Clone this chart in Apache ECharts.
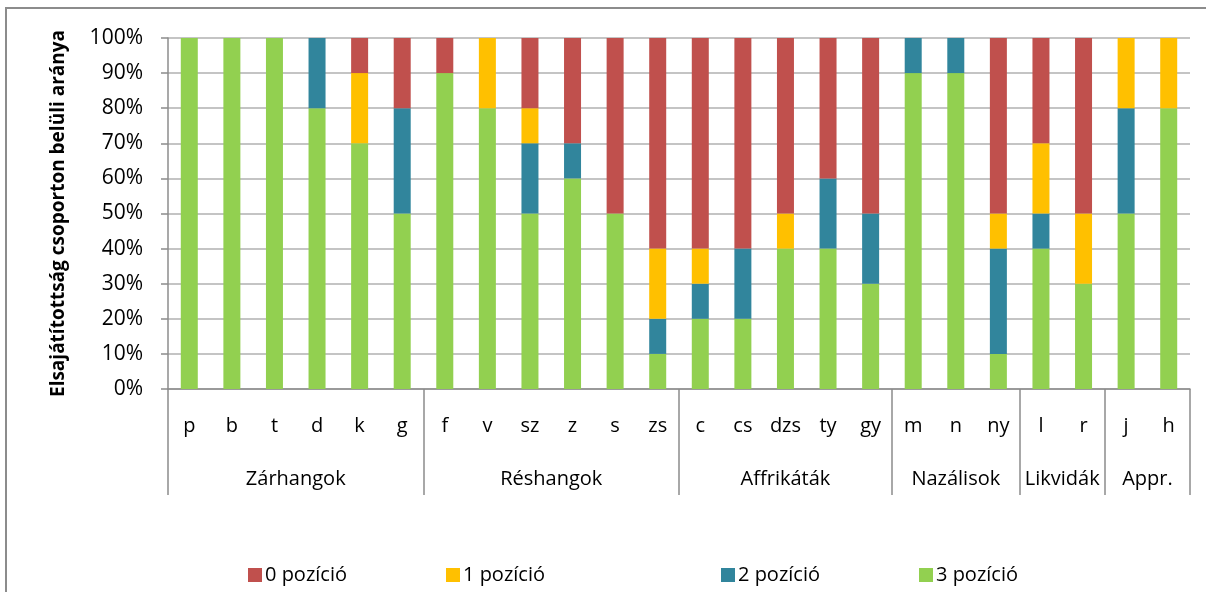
<!DOCTYPE html>
<html style="height: 100%">
<head>
    <meta charset="utf-8">
</head>
<body style="height: 100%; margin: 0; background: #fff">
<div style="position: absolute; left: 5px; top: 7px; width: 1201px; height: 585px; border-left: 2px solid #8c8c8c; border-top: 2px solid #8c8c8c;"></div>
<div id="container" style="position: absolute; left: 0; top: 0; width: 1206px; height: 592px"></div>
<script type="text/javascript" src="https://cdn.jsdelivr.net/npm/echarts@6/dist/echarts.min.js"></script>
<script type="text/javascript">
    // hangok (kategóriák)
    var hangok = ['p', 'b', 't', 'd', 'k', 'g', 'f', 'v', 'sz', 'z', 's', 'zs', 'c', 'cs', 'dzs', 'ty', 'gy', 'm', 'n', 'ny', 'l', 'r', 'j', 'h'];
    // csoportok es hatarok (kategoria-indexben)
    var csoportok = ['Zárhangok', 'Réshangok', 'Affrikáták', 'Nazálisok', 'Likvidák', 'Appr.'];
    var csoportHatarok = [0, 6, 12, 17, 20, 22, 24];

    // arányok %-ban
    var poz0 = [0, 0, 0, 0, 10, 20, 10, 0, 20, 30, 50, 60, 60, 60, 50, 40, 50, 0, 0, 50, 30, 50, 0, 0];
    var poz1 = [0, 0, 0, 0, 20, 0, 0, 20, 10, 0, 0, 20, 10, 0, 10, 0, 0, 0, 0, 10, 20, 20, 20, 20];
    var poz2 = [0, 0, 0, 20, 0, 30, 0, 0, 20, 10, 0, 10, 10, 20, 0, 20, 20, 10, 10, 30, 10, 0, 30, 0];
    var poz3 = [100, 100, 100, 80, 70, 50, 90, 80, 50, 60, 50, 10, 20, 20, 40, 40, 30, 90, 90, 10, 40, 30, 50, 80];

    var yTicks = [0, 10, 20, 30, 40, 50, 60, 70, 80, 90, 100];

    var csoportKozep = [];
    for (var i = 0; i < csoportok.length; i++) {
        csoportKozep.push((csoportHatarok[i] + csoportHatarok[i + 1]) / 2);
    }

    var dom = document.getElementById("container");
    var myChart = echarts.init(dom);
    var betu = '"Open Sans", sans-serif';
    var meret = 20;
    var szurke = '#8c8c8c';

    function sor(nev, adat, szin) {
        return {
            name: nev,
            type: 'bar',
            stack: 'ossz',
            barWidth: 17,
            itemStyle: {color: szin},
            data: adat
        };
    }

    function jelmagyarazat(nev, bal) {
        return {
            data: [nev],
            left: bal,
            top: 560,
            itemWidth: 14,
            itemHeight: 14,
            icon: 'rect',
            itemGap: 0,
            textStyle: {fontFamily: betu, fontSize: meret, color: '#000', padding: [0, 0, 0, -2]}
        };
    }

    var option = {
        animation: false,
        textStyle: {fontFamily: betu},
        grid: {left: 168, right: 16, top: 38, bottom: 203},
        legend: [
            jelmagyarazat('0 pozíció', 243),
            jelmagyarazat('1 pozíció', 441),
            jelmagyarazat('2 pozíció', 716),
            jelmagyarazat('3 pozíció', 914)
        ],
        xAxis: [
            {
                type: 'category',
                data: hangok,
                axisLine: {lineStyle: {color: szurke, width: 1.5}},
                axisTick: {interval: 0, length: 53, lineStyle: {color: szurke, width: 1.5}},
                axisLabel: {interval: 0, margin: 27, fontSize: meret, color: '#000', fontFamily: betu}
            },
            {
                type: 'value',
                min: 0,
                max: hangok.length,
                position: 'bottom',
                axisLine: {show: false},
                splitLine: {show: false},
                axisTick: {
                    show: true,
                    length: 106,
                    customValues: csoportHatarok,
                    lineStyle: {color: szurke, width: 1.5}
                },
                axisLabel: {
                    margin: 80,
                    fontSize: meret,
                    color: '#000',
                    fontFamily: betu,
                    customValues: csoportKozep,
                    formatter: function (v) {
                        var k = csoportKozep.indexOf(v);
                        return k >= 0 ? csoportok[k] : '';
                    }
                }
            }
        ],
        yAxis: {
            type: 'value',
            min: 0,
            max: 100,
            interval: 10,
            name: 'Elsajátítottság csoporton belüli aránya',
            nameLocation: 'middle',
            nameGap: 100,
            nameTextStyle: {fontSize: 19, fontWeight: 'bold', color: '#000', fontFamily: betu},
            axisLine: {show: true, lineStyle: {color: szurke, width: 1.5}},
            axisTick: {show: true, length: 7, lineStyle: {color: szurke, width: 1.5}},
            splitLine: {lineStyle: {color: '#b0b0b0', width: 1.5}},
            axisLabel: {
                margin: 25,
                fontSize: 21,
                color: '#000',
                fontFamily: betu,
                customValues: yTicks,
                formatter: '{value}%'
            }
        },
        series: [
            sor('3 pozíció', poz3, '#92d050'),
            sor('2 pozíció', poz2, '#31859c'),
            sor('1 pozíció', poz1, '#ffc000'),
            sor('0 pozíció', poz0, '#c0504d')
        ]
    };

    myChart.setOption(option, true);
</script>
</body>
</html>
